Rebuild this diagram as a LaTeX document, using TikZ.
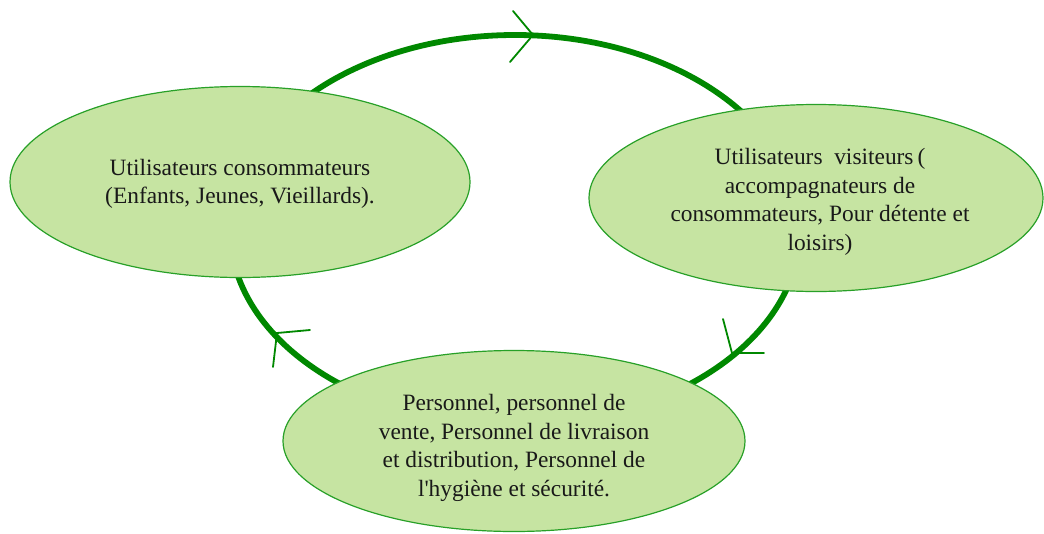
\documentclass[tikz,border=0pt]{standalone}
\usepackage{fontspec}
\setmainfont{Liberation Serif}[Ligatures=TeXOff]
\usetikzlibrary{shapes.geometric}
\definecolor{cycgreen}{RGB}{0,136,0}
\definecolor{fillgreen}{RGB}{198,228,162}
\definecolor{edgegreen}{RGB}{40,160,40}
\tikzset{
  cycle/.style={draw=cycgreen, line width=5.8pt},
  chev/.style={draw=cycgreen, line width=1.8pt, line cap=round, line join=miter},
  blob/.style={ellipse, draw=edgegreen, fill=fillgreen, line width=1.2pt, inner sep=0pt},
  blobtext/.style={align=center, inner sep=0pt, font=\fontsize{23.4}{28.5}\selectfont, text=black!90}
}
\begin{document}
\begin{tikzpicture}[x=1pt,y=-1pt]
\useasboundingbox (0,0) rectangle (1044,533);
% cycle
\draw[cycle] (515,230) ellipse [x radius=285pt, y radius=195pt];
\coordinate (t1) at (533,35);
\coordinate (t2) at (732,353);
\coordinate (t3) at (277,333);
\draw[chev] ([shift={(-20,-24)}]t1) -- (t1) -- ([shift={(-23,27)}]t1);
\draw[chev] ([shift={(-9,-34)}]t2) -- (t2) -- ([shift={(32,0)}]t2);
\draw[chev] ([shift={(33,-3)}]t3) -- (t3) -- ([shift={(-4,34)}]t3);
% ellipses
\node[blob, minimum width=460pt, minimum height=191pt] (L) at (240,182) {};
\node[blobtext] (Lt) at ([shift={(0,2)}]L.center)
  {Utilisateurs consommateurs\\(Enfants, Jeunes, Vieillards).};
\node[blob, minimum width=454pt, minimum height=187pt] (R) at (816,198) {};
\node[blobtext] (Rt) at ([shift={(4,4)}]R.center)
  {Utilisateurs\ \ visiteurs\,(\\accompagnateurs de\\consommateurs, Pour détente et\\loisirs)};
\node[blob, minimum width=462pt, minimum height=181pt] (B) at (514,441) {};
\node[blobtext] (Bt) at ([shift={(0,7)}]B.center)
  {Personnel, personnel de\\vente, Personnel de livraison\\et distribution, Personnel de\\l'hygiène et sécurité.};
\end{tikzpicture}
\end{document}
